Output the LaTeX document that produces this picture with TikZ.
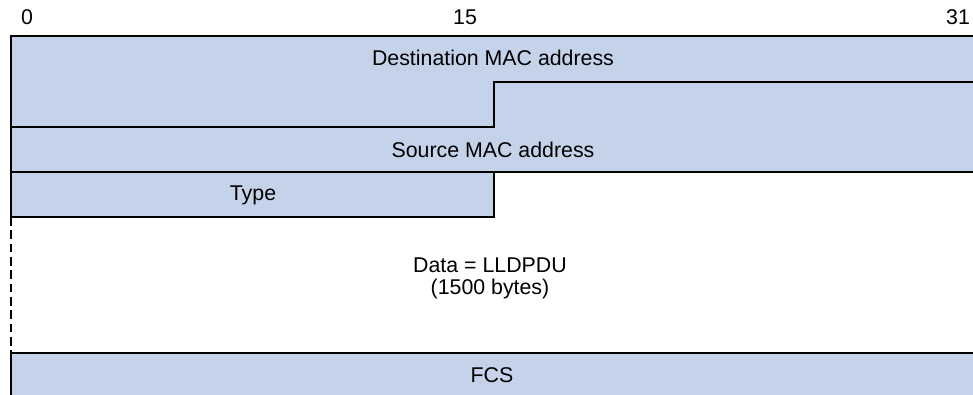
\documentclass[tikz,border=0pt]{standalone}
\usepackage{fontspec}
\setmainfont{Liberation Sans}
\usepackage{tikz}
\usetikzlibrary{positioning}
\definecolor{fieldblue}{RGB}{197,211,234}

\begin{document}
\begin{tikzpicture}[x=0.75pt,y=-0.75pt]
\tikzstyle{every node}=[font=\fontsize{16}{17}\selectfont, inner sep=0pt]
\tikzstyle{border}=[line width=2.1pt, black]
\tikzstyle{field}=[fill=fieldblue]

\useasboundingbox (0,0) rectangle (973,395);

% fields
\fill[field] (11,36) -- (973,36) -- (973,82) -- (494,82) -- (494,127) -- (11,127) -- cycle;
\fill[field] (494,82) -- (973,82) -- (973,172) -- (11,172) -- (11,127) -- (494,127) -- cycle;
\fill[field] (11,172) rectangle (494,217);
\fill[field] (11,353) rectangle (973,396);

% borders
\draw[border] (973,36) -- (11,36) -- (11,217);
\draw[border] (11,127) -- (494,127) -- (494,82) -- (973,82);
\draw[border] (11,172) -- (973,172);
\draw[border] (11,217) -- (494,217) -- (494,172);
\draw[border, dash pattern=on 6.5pt off 3.5pt] (11,217) -- (11,353);
\draw[border] (973,353) -- (11,353) -- (11,396);

% bit numbers
\node (bit0) at (27,17) {0};
\node (bit15) at (465,17) {15};
\node (bit31) at (958,17) {31};

% labels
\node (dst) at (493,58) {Destination MAC address};
\node (src) at (493,150) {Source MAC address};
\node (type) at (253,195) {Type};
\node[align=center, font=\fontsize{16}{16.5}\selectfont] (data) at (490,278) {Data = LLDPDU\\(1500 bytes)};
\node (fcs) at (492,375) {FCS};

\end{tikzpicture}
\end{document}
